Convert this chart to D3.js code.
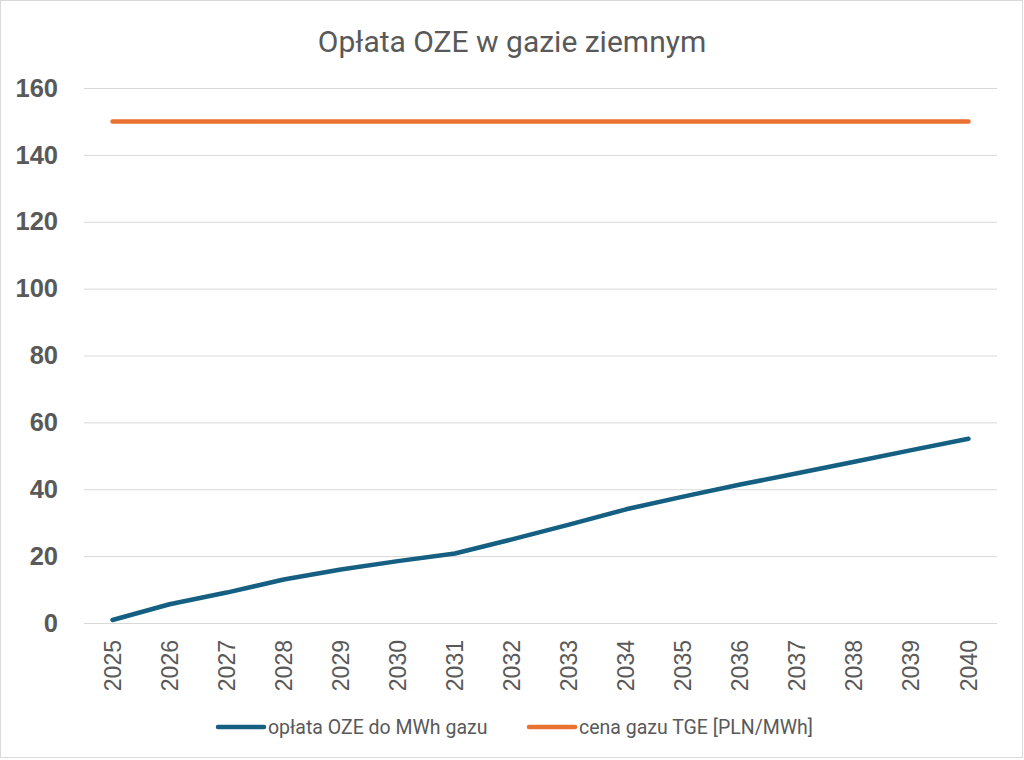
<!DOCTYPE html>
<html><head><meta charset="utf-8">
<script src="https://cdn.jsdelivr.net/npm/d3@7"></script>
<style>body{margin:0;background:#fff}svg{display:block}</style>
</head><body><svg id="c" width="1024" height="760"></svg>
<script>
const years = ["2025","2026","2027","2028","2029","2030","2031","2032","2033","2034","2035","2036","2037","2038","2039","2040"];
const oplataOZE = [0.9,5.6,9.1,13.0,16.0,18.5,20.8,25.0,29.4,34.0,37.8,41.4,44.8,48.2,51.7,55.1];
const cenaGazu = [150,150,150,150,150,150,150,150,150,150,150,150,150,150,150,150];
const yTicks = [0,20,40,60,80,100,120,140,160];
const seriesNames = ["opłata OZE do MWh gazu","cena gazu TGE [PLN/MWh]"];
const colors = ["#156082","#E97132"];

(function(){
const svg = d3.select("#c");
svg.append("rect").attr("x",0.5).attr("y",0.5).attr("width",1022).attr("height",757)
  .attr("fill","#fff").attr("stroke","#d9d9d9");

const pL=84,pR=997,pT=88,pB=623;
const x = d3.scaleBand().domain(years).range([pL,pR]);
const y = d3.scaleLinear().domain([0,160]).range([pB,pT]);
const gray="#595959";

svg.append("text").attr("x",512).attr("y",52).attr("text-anchor","middle")
  .attr("font-family","Roboto, 'Open Sans', sans-serif").attr("font-size",30).attr("fill",gray)
  .text("Opłata OZE w gazie ziemnym");

const ga = svg.append("g").attr("transform",`translate(${pL},0)`)
  .call(d3.axisLeft(y).tickValues(yTicks).tickSize(-(pR-pL)).tickPadding(26));
ga.select(".domain").remove();
ga.selectAll(".tick line").attr("stroke","#d9d9d9").attr("stroke-width",1);
ga.selectAll(".tick text").attr("font-family","'Liberation Sans', Arial, sans-serif")
  .attr("font-size",25.5).attr("font-weight","bold").attr("fill",gray);

const gx = svg.append("g").attr("transform",`translate(0,${pB})`)
  .call(d3.axisBottom(x).tickSize(0));
gx.select(".domain").remove();
gx.selectAll(".tick text").attr("font-family","'Liberation Sans', Arial, sans-serif")
  .attr("font-size",23).attr("fill",gray)
  .attr("transform","rotate(-90)").attr("text-anchor","end")
  .attr("x",-17).attr("y",0).attr("dy","0.35em");

const line = d3.line().x((d,i)=>x(years[i])+x.bandwidth()/2).y(d=>y(d));
[oplataOZE,cenaGazu].forEach((s,k)=>{
  svg.append("path").datum(s).attr("d",line).attr("fill","none")
    .attr("stroke",colors[k]).attr("stroke-width",4.5).attr("stroke-linecap","round").attr("stroke-linejoin","round");
});

const legX=[218,529];
seriesNames.forEach((n,k)=>{
  const g=svg.append("g");
  g.append("line").attr("x1",legX[k]).attr("x2",legX[k]+46).attr("y1",727).attr("y2",727)
    .attr("stroke",colors[k]).attr("stroke-width",4.5).attr("stroke-linecap","round");
  g.append("text").attr("x",legX[k]+50).attr("y",734)
    .attr("font-family","Roboto, 'Open Sans', sans-serif").attr("font-size",19.5).attr("fill",gray).text(n);
});
})();
</script></body></html>
